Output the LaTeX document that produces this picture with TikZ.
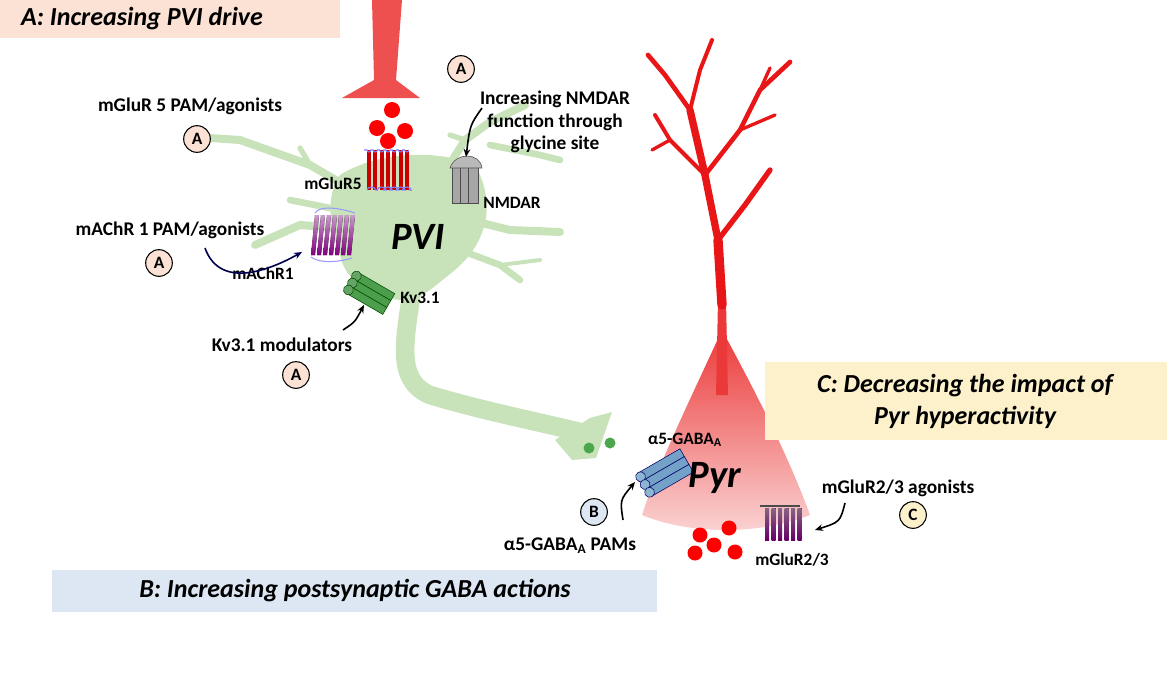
\documentclass[tikz,border=0pt]{standalone}
\usepackage{fontspec}
\setmainfont{Carlito}
\usetikzlibrary{arrows.meta,shapes.geometric}
\definecolor{pvi}{RGB}{200,226,186}
\definecolor{pyrred}{RGB}{232,22,22}
\definecolor{boxA}{RGB}{251,226,212}
\definecolor{boxB}{RGB}{220,231,243}
\definecolor{boxC}{RGB}{253,241,204}
\tikzset{
 lab/.style={font=\bfseries\fontsize{14.5}{17}\selectfont, align=center},
 slab/.style={font=\bfseries\fontsize{13}{15}\selectfont, align=center},
 title/.style={font=\bfseries\itshape\fontsize{19.5}{24}\selectfont, align=center},
 big/.style={font=\bfseries\itshape\fontsize{29}{31}\selectfont},
 circ/.style={circle, draw=black, line width=0.8pt, minimum size=20pt, inner sep=0pt, font=\bfseries\fontsize{13}{15}\selectfont},
 arr/.style={-{Stealth[length=6pt,width=5pt]}, line width=1.2pt, black},
 dend/.style={pvi, line cap=round, line join=round},
 pdend/.style={pyrred, line cap=round, line join=round},
 rdot/.style={fill=red, draw=none},
}
\begin{document}
\begin{tikzpicture}[x=0.75pt,y=-0.75pt]
\useasboundingbox (0,0) rectangle (1170,690);
% boxes A, B
\fill[boxA] (0,0) rectangle (340,38);
\node[title] (tA) at (142,19) {A: Increasing PVI drive};
\fill[boxB] (52,570) rectangle (657,612);
\node[title] (tB) at (355,591) {B: Increasing postsynaptic GABA actions};
% Pyr neuron
\shade[top color=pyrred!85, bottom color=pyrred!18] (722,330) .. controls (760,400) and (790,460) .. (810,515)
  .. controls (760,535) and (690,535) .. (642,515) .. controls (660,460) and (690,400) .. (722,330) -- cycle;
\fill[pyrred!85] (716,395) -- (718,300) -- (726,300) -- (728,395) -- cycle;
\draw[pdend, line width=7pt] (722,305) -- (718,240);
\draw[pdend, line width=5.5pt] (718,240) -- (705,175) -- (690,110);
\draw[pdend, line width=3.5pt] (690,110) -- (665,75) -- (648,55);
\draw[pdend, line width=3pt] (690,110) -- (700,70) -- (712,40);
\draw[pdend, line width=4pt] (718,240) -- (745,205) -- (770,170);
\draw[pdend, line width=3.5pt] (705,175) -- (740,130) -- (760,90) -- (790,62);
\draw[pdend, line width=2.5pt] (740,130) -- (775,115);
\draw[pdend, line width=3pt] (705,175) -- (670,140) -- (655,115);
\draw[pdend, line width=2.5pt] (670,140) -- (652,150);
\draw[pdend, line width=2.5pt] (760,90) -- (770,68);
% box C
\fill[boxC] (765,362) rectangle (1167,440);
\node[title] (tC) at (965,401) {C: Decreasing the impact of\\Pyr hyperactivity};
% presynaptic terminal
\fill[pyrred!75] (372,0) -- (402,0) -- (396,80) -- (420,98) -- (342,98) -- (374,80) -- cycle;
\foreach \p in {(392,110),(377,128),(405,131),(388,141)} \fill[rdot] \p circle (8);
% PVI neuron dendrites
\draw[dend, line width=6pt] (370,200) -- (310,165) -- (240,140) -- (210,138);
\draw[dend, line width=4pt] (310,165) -- (300,148);
\draw[dend, line width=6pt] (365,230) -- (300,225) -- (255,245);
\draw[dend, line width=5pt] (340,210) -- (290,200);
\draw[dend, line width=6pt] (440,180) -- (465,140) -- (490,122) -- (525,105);
\draw[dend, line width=4pt] (465,140) -- (450,135);
\draw[dend, line width=5pt] (490,145) -- (540,155) -- (560,160);
\draw[dend, line width=6pt] (470,220) -- (510,230) -- (560,232);
\draw[dend, line width=5pt] (460,250) -- (500,265) -- (520,280);
\draw[dend, line width=3pt] (500,265) -- (540,260);
% soma
\fill[pvi] (340,175) .. controls (380,150) and (440,150) .. (475,165)
 .. controls (495,200) and (490,240) .. (455,270)
 .. controls (430,290) and (420,300) .. (405,300)
 .. controls (370,300) and (345,280) .. (340,255)
 .. controls (330,230) and (325,195) .. (340,175) -- cycle;
% axon
\draw[dend, line width=14pt] (412,290) .. controls (405,340) and (395,380) .. (430,395)
 .. controls (480,410) and (530,420) .. (580,432);
\fill[pvi] (555,440) -- (590,418) -- (612,412) -- (596,458) -- (572,460) -- cycle;
\fill[green!50!black!70] (589,448) circle (5.5);
\fill[green!50!black!70] (610,443) circle (5.5);
% mGluR5 receptor
\foreach \i in {0,...,6} {
  \fill[red!80!black] (367+\i*6.3,150) rectangle (371+\i*6.3,190);
}
\draw[blue!50, line width=0.8pt] (364,150) \foreach \i in {0,...,6} { -- (367+\i*6.3,150) arc (180:0:2) };
\draw[blue!50, line width=0.8pt] (367,190) \foreach \i in {0,...,5} { arc (180:360:4.3 and 3) -- (371+\i*6.3+6.3,190) } ;
% mAChR1
\foreach \i in {0,...,6} {
  \fill[top color=violet!40, bottom color=violet] (315+\i*6,215) -- (319+\i*6,215) -- (315+\i*6,255) -- (311+\i*6,255) -- cycle;
}
\draw[blue!40, line width=0.8pt] (315,213) .. controls (320,205) and (340,208) .. (355,213);
\draw[blue!40, line width=0.8pt] (311,257) .. controls (320,264) and (340,262) .. (352,258);
% NMDAR
\foreach \dx in {0,8,16} \filldraw[fill=gray!70, draw=black!70] (452+\dx,165) rectangle (462+\dx,203);
\filldraw[fill=gray!55, draw=black!70] (450,168) .. controls (455,152) and (480,152) .. (482,168) -- cycle;
% Kv3.1
\begin{scope}[rotate around={-30:(368,292)}]
\foreach \dy in {-8,0,8} \filldraw[fill=green!45!black!70, draw=green!30!black] (350,292+\dy-4) rectangle (392,292+\dy+4);
\foreach \dy in {-8,0,8} \filldraw[fill=green!40!black!60, draw=green!30!black] (350,292+\dy) circle (5);
\end{scope}
% alpha5 GABA-A
\begin{scope}[rotate around={30:(665,473)}]
\foreach \dy in {-9,0,9} \filldraw[fill=blue!45!cyan!60!black!55, draw=blue!40!black] (642,473+\dy-4.5) rectangle (690,473+\dy+4.5);
\foreach \dy in {-9,0,9} \filldraw[fill=blue!40!cyan!60!black!45, draw=blue!40!black] (642,473+\dy) circle (5);
\end{scope}
% mGluR2/3
\foreach \i in {0,...,5} \fill[top color=violet!40!black!60, bottom color=violet!80!black] (765+\i*6.5,508) rectangle (769+\i*6.5,540);
\draw[black!70, line width=0.8pt] (760,506) -- (800,506);
% Pyr glutamate dots
\foreach \p in {(700,535),(729,528),(714,545),(695,553),(735,552)} \fill[rdot] \p circle (7.5);
% texts
\node[lab] (tmg5) at (190,106) {mGluR 5 PAM/agonists};
\node[lab] (tnm) at (555,122) {Increasing NMDAR\\function through\\glycine site};
\node[slab] (lmg5) at (333,183) {mGluR5};
\node[slab] (lnm) at (512,203) {NMDAR};
\node[lab] (tma) at (170,230) {mAChR 1 PAM/agonists};
\node[slab] (lma) at (263,273) {mAChR1};
\node[slab] (lkv) at (420,298) {Kv3.1};
\node[lab] (tkv) at (282,345) {Kv3.1 modulators};
\node[big] (pvi) at (418,237) {PVI};
\node[big] (pyr) at (715,478) {Pyr};
\node[slab] (lga) at (685,440) {α5-GABA\textsubscript{A}};
\node[lab] (tga) at (570,546) {α5-GABA\textsubscript{A} PAMs};
\node[lab] (tmg23) at (898,488) {mGluR2/3 agonists};
\node[slab] (lmg23) at (792,560) {mGluR2/3};
% circles
\node[circ, fill=boxA] (cA1) at (197,139) {A};
\node[circ, fill=boxA] (cA2) at (461,69) {A};
\node[circ, fill=boxA] (cA3) at (159,263) {A};
\node[circ, fill=boxA] (cA4) at (296,375) {A};
\node[circ, fill=boxB] (cB) at (594,512) {B};
\node[circ, fill=boxC] (cC) at (913,515) {C};
% arrows
\coordinate (mae) at (205,248); \coordinate (mat) at (302,252);
\draw[arr, black!70!blue] (mae) .. controls (220,290) and (270,270) .. (mat);
\coordinate (nme) at (482,108); \coordinate (nmt) at (466,157);
\draw[arr] (nme) .. controls (470,125) .. (nmt);
\coordinate (kve) at (343,330); \coordinate (kvt) at (364,305);
\draw[arr] (kve) .. controls (355,322) .. (kvt);
\coordinate (gae) at (623,520); \coordinate (gat) at (635,482);
\draw[arr] (gae) .. controls (620,500) .. (gat);
\coordinate (mge) at (845,503); \coordinate (mgt) at (815,530);
\draw[arr] (mge) .. controls (840,522) .. (mgt);
\end{tikzpicture}
\end{document}
